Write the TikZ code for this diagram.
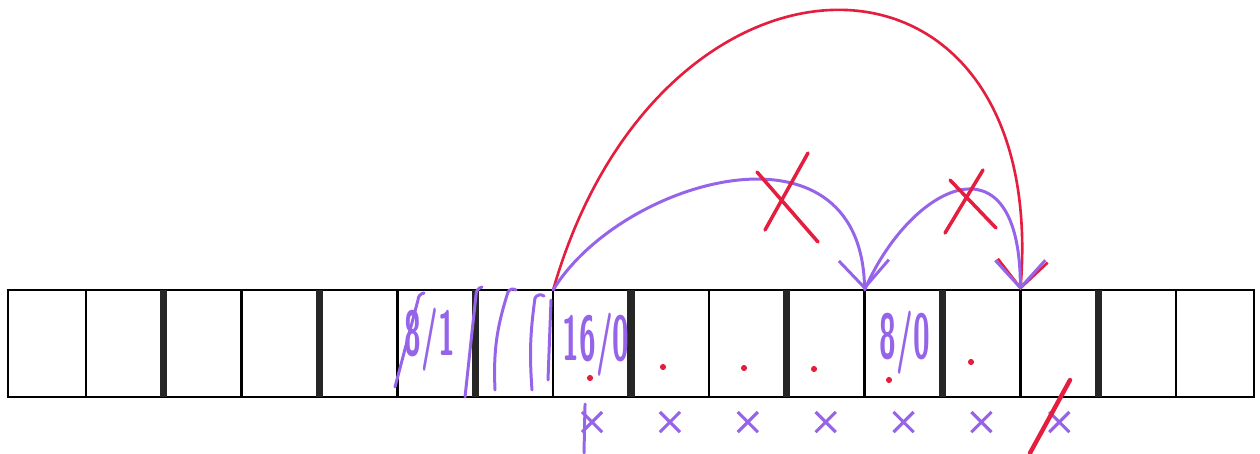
\documentclass[tikz,border=0pt]{standalone}
\usetikzlibrary{positioning,arrows.meta,shapes.misc}
\definecolor{penpurple}{RGB}{150,100,232}
\definecolor{penred}{RGB}{228,30,62}
\newcommand{\handtext}[1]{\scalebox{0.48}[1]{#1}}
\tikzset{
  cell/.style={draw, line width=1.4pt, minimum width=1.5575cm, minimum height=2.14cm,
    inner sep=0pt, outer sep=0pt, anchor=north west},
  divider/.style={line width=4pt, black!85},
  purplepen/.style={penpurple, line width=1.7pt, line cap=round},
  redpen/.style={penred, line width=1.5pt, line cap=round},
  penlabel/.style={penpurple, font=\sffamily\bfseries\fontsize{36}{36}\selectfont, inner sep=0pt},
  xmark/.style={cross out, draw=penpurple, line width=1.8pt, minimum size=0.34cm, inner sep=0pt},
  reddot/.style={circle, fill=penred, minimum size=3.5pt, inner sep=0pt},
  tip/.style={-{Straight Barb[length=0.55cm, width=1cm]}}
}
\begin{document}
\begin{tikzpicture}[x=0.02cm, y=-0.02cm]
\useasboundingbox (0,0) rectangle (1260,453);
% row of sixteen cells
\foreach \i in {1,...,16}
  \node[cell] (c\i) at ({8+(\i-1)*77.875},290) {};
\foreach \i in {2,4,...,14}
  \draw[divider] (c\i.north east) -- (c\i.south east);

% labels written in the cells
\node[penlabel] (l6) at (430,340) {\handtext{8/1}};
\node[penlabel] (l8) at (596,345) {\handtext{16/0}};
\node[penlabel] (l12) at (905,343) {\handtext{8/0}};

% hatching over cells 6 and 7
\draw[purplepen] (395,387) -- (418,300) to[bend left=40] (424,293);
\draw[purplepen] (465,397) -- (476,295) to[bend left=40] (482,287);
\draw[purplepen] (495,390) to[bend left=10] (508,292) to[bend left=50] (516,290);
\draw[purplepen] (532,390) to[bend left=6] (535,298) to[bend left=50] (544,296);
\draw[purplepen] (548,380) -- (551,300);

% red dots
\node[reddot] (d8) at (590,378) {};
\node[reddot] (d9) at (663,367) {};
\node[reddot] (d10) at (744,368) {};
\node[reddot] (d11) at (814,369) {};
\node[reddot] (d12) at (889,380) {};
\node[reddot] (d13) at (971,362) {};

% marks under the cells
\foreach \i in {8,...,14}
  \node[xmark, below=0.3cm of c\i] (m\i) {};
\coordinate (tail) at (584,453);
\draw[purplepen] (c8.south) ++(-4pt,-4pt) coordinate (top8) -- (tail);
\coordinate (slashtop) at (1070,380);
\coordinate (slashend) at (1030,453);
\draw[redpen, line width=2.5pt] (slashtop) -- (slashend);

% jumps
\draw[redpen, tip] (c8.north west) .. controls (660,-83) and (1050,-83) .. (c14.north west);
\draw[purplepen, tip] (c8.north west) .. controls (620,180) and (860,110) .. (c12.north west);
\draw[purplepen, tip] (c12.north west) .. controls (910,185) and (1020,130) .. (c14.north west);

% crossed-out jumps
\draw[redpen, line width=2pt] (765,230) -- (808,153);
\draw[redpen, line width=2pt] (757,172) -- (818,242);
\draw[redpen, line width=2pt] (945,233) -- (983,170);
\draw[redpen, line width=2pt] (950,180) -- (996,228);
\end{tikzpicture}
\end{document}
